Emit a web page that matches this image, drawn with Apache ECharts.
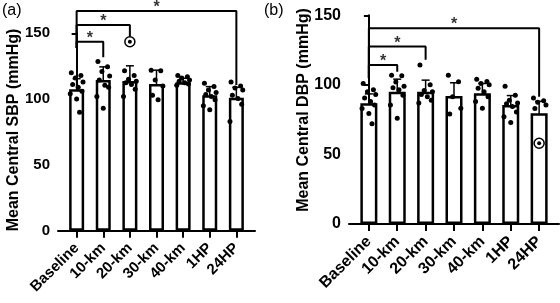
<!DOCTYPE html>
<html>
<head>
<meta charset="utf-8">
<script src="https://cdn.jsdelivr.net/npm/echarts@6/dist/echarts.min.js"></script>
<style>
  html, body { margin: 0; padding: 0; background: #fff; }
  #chart { width: 560px; height: 303px; }
</style>
</head>
<body>
<div id="chart"></div>
<script>
const categories = ['Baseline', '10-km', '20-km', '30-km', '40-km', '1HP', '24HP'];

// (a) central SBP
const sbpMean = [107.5, 114.5, 113.8, 111.5, 112.8, 103, 101];
const sbpSd = [8, 10, 11.5, 10.5, 3, 6.5, 8];
const sbpPoints = [
  [120, 118, 116, 113, 111, 109, 106, 104, 100, 90],
  [128.5, 124.5, 121, 117.5, 114.5, 110.5, 109, 102, 93],
  [121.5, 118, 115, 113.5, 112.5, 111, 107.5, 102],
  [122, 121.5, 114.5, 110, 103, 99.5],
  [118, 117, 116, 114.5, 113.5, 112.5, 111.5, 110.5],
  [112, 109.5, 107, 105, 103.5, 102, 99.5, 95, 92],
  [113, 110, 108.5, 107, 103, 100.5, 96, 83]
];
const sbpOutliers = [[2, 143.6]];
// [from, to, bracket level, right leg end]
const sbpBrackets = [[0, 1, 143.6, 131.8], [0, 2, 156.3, 147.5], [0, 6, 167, 110.7]];
const sbpBaseLeg = 138.8;

// (b) central DBP
const dbpMean = [86.8, 95.1, 95, 92, 94, 85.5, 79.6];
const dbpSd = [6.7, 9, 8.4, 9.5, 7, 6.8, 8.6];
const dbpPoints = [
  [101, 96.5, 95, 93, 90.5, 88, 85.5, 83, 79.5, 72],
  [107, 106.5, 102, 99, 98, 96.5, 92.5, 85.5, 76],
  [114.3, 100, 96, 95, 93, 91.5, 89, 87],
  [107, 102.3, 91.5, 83.2, 79],
  [104, 102.5, 101, 100, 97.5, 95, 91.5, 88, 83.2],
  [99, 92.5, 89, 87, 86.5, 84.5, 80.5, 77, 73],
  [90.5, 88.5, 87.5, 85.5, 83]
];
const dbpOutliers = [[6, 58]];
const dbpBrackets = [[0, 1, 114.3, 109.5], [0, 2, 127.5, 118], [0, 6, 140.7, 91.5]];
const dbpBaseLeg = 104.7;

const font = 'Liberation Sans, Arial, sans-serif';
const jitter = [-0.2, 0.16, -0.05, 0.24, -0.15, 0.06, 0.2, -0.24, 0.0, 0.11];

const xAxisFor = (gridIndex, size) => ({
  type: 'value',
  gridIndex,
  min: -0.7,
  max: 6.7,
  splitLine: { show: false },
  axisLine: { show: true, lineStyle: { color: '#000', width: 2 } },
  axisTick: { show: true, customValues: categories.map((c, i) => i), length: 7, lineStyle: { color: '#000', width: 2 } },
  axisLabel: {
    customValues: categories.map((c, i) => i),
    formatter: (v) => categories[Math.round(v)],
    rotate: 45, margin: 15,
    fontSize: size, fontWeight: 700, color: '#000', fontFamily: font
  }
});

const yAxisFor = (gridIndex, size) => ({
  type: 'value',
  gridIndex,
  min: 0, max: 150, interval: 50,
  splitLine: { show: false },
  axisLine: { show: true, lineStyle: { color: '#000', width: 2 } },
  axisTick: { show: true, length: 5, lineStyle: { color: '#000', width: 2 } },
  axisLabel: { fontSize: size, fontWeight: 700, color: '#000', fontFamily: font, margin: 8 }
});

// rotated bold axis titles
const axisTitle = (text, x, y) => ({
  type: 'text', x, y, rotation: Math.PI / 2,
  style: {
    text, fill: '#000', font: 'bold 16px "Liberation Sans", Arial, sans-serif',
    align: 'center', verticalAlign: 'middle'
  }
});

const panelSeries = (idx, means, sds, points, outliers, brackets, baseLeg, barWidth) => {
  const list = [];
  list.push({
    type: 'bar', xAxisIndex: idx, yAxisIndex: idx, barWidth,
    data: means.map((m, i) => [i, m]),
    itemStyle: { color: '#fff', borderColor: '#000', borderWidth: 2.5 },
    silent: true
  });
  list.push({
    type: 'custom', xAxisIndex: idx, yAxisIndex: idx, clip: false,
    data: means.map((m, i) => [i, m - sds[i], m + sds[i]]),
    encode: { x: 0, y: [1, 2] },
    renderItem: (params, api) => {
      const top = api.coord([api.value(0), api.value(2)]);
      const bot = api.coord([api.value(0), api.value(1)]);
      const st = { stroke: '#000', lineWidth: 1.5 };
      return {
        type: 'group', children: [
          { type: 'line', shape: { x1: top[0], y1: top[1], x2: bot[0], y2: bot[1] }, style: st },
          { type: 'line', shape: { x1: top[0] - 4, y1: top[1], x2: top[0] + 4, y2: top[1] }, style: st },
          { type: 'line', shape: { x1: bot[0] - 4, y1: bot[1], x2: bot[0] + 4, y2: bot[1] }, style: st }
        ]
      };
    }
  });
  const dots = [];
  points.forEach((grp, i) => grp.forEach((v, k) => dots.push([i + jitter[k % jitter.length], v])));
  list.push({
    type: 'scatter', xAxisIndex: idx, yAxisIndex: idx, clip: false,
    symbolSize: 5, data: dots, itemStyle: { color: '#000', opacity: 1 }
  });
  list.push({
    type: 'scatter', xAxisIndex: idx, yAxisIndex: idx, clip: false,
    symbolSize: 10, data: outliers,
    itemStyle: { color: '#fff', borderColor: '#000', borderWidth: 1.5, opacity: 1 }
  });
  list.push({
    type: 'scatter', xAxisIndex: idx, yAxisIndex: idx, clip: false,
    symbolSize: 4, data: outliers, itemStyle: { color: '#000', opacity: 1 }
  });
  brackets.forEach(([from, to, level, rightEnd]) => {
    list.push({
      type: 'line', xAxisIndex: idx, yAxisIndex: idx, clip: false,
      symbol: 'none', lineStyle: { color: '#000', width: 2 },
      data: [[from, baseLeg], [from, level], [to, level], [to, rightEnd]]
    });
  });
  list.push({
    type: 'scatter', xAxisIndex: idx, yAxisIndex: idx, clip: false,
    symbolSize: 1, itemStyle: { color: 'rgba(0,0,0,0)' },
    data: brackets.map(([from, to, level]) => [(from + to) / 2, level]),
    label: {
      show: true, position: 'top', distance: 0, offset: [0, 5], formatter: '*',
      fontSize: 16, fontWeight: 700, color: '#000', fontFamily: font
    }
  });
  return list;
};

const chart = echarts.init(document.getElementById('chart'), null, { renderer: 'canvas' });
chart.setOption({
  animation: false,
  backgroundColor: '#fff',
  graphic: [
    { type: 'text', left: 2, top: 3, style: { text: '(a)', fontSize: 16, fill: '#000', fontFamily: font } },
    { type: 'text', left: 264, top: 3, style: { text: '(b)', fontSize: 16, fill: '#000', fontFamily: font } },
    axisTitle('Mean Central SBP (mmHg)', 14, 130),
    axisTitle('Mean Central DBP (mmHg)', 304, 110)
  ],
  grid: [
    { left: 58, top: 33.3, width: 197, height: 197.4 },
    { left: 349, top: 15.3, width: 210, height: 208.7 }
  ],
  xAxis: [xAxisFor(0, 15), xAxisFor(1, 16)],
  yAxis: [yAxisFor(0, 15), yAxisFor(1, 16)],
  series: [
    ...panelSeries(0, sbpMean, sbpSd, sbpPoints, sbpOutliers, sbpBrackets, sbpBaseLeg, 15),
    ...panelSeries(1, dbpMean, dbpSd, dbpPoints, dbpOutliers, dbpBrackets, dbpBaseLeg, 17)
  ]
});
</script>
</body>
</html>
